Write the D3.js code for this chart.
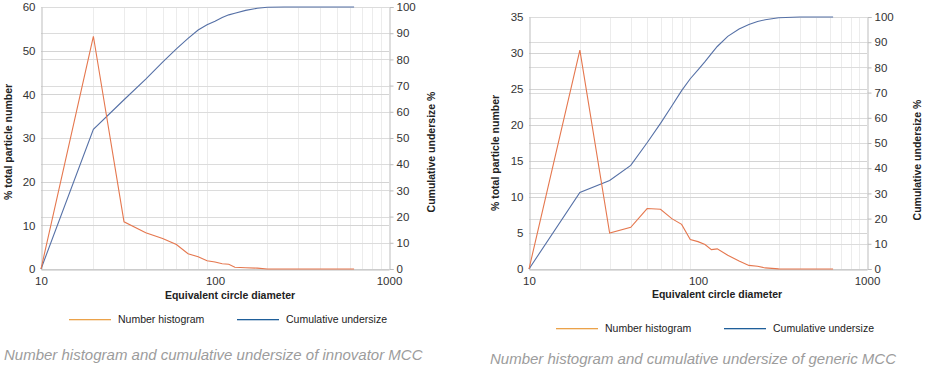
<!DOCTYPE html>
<html>
<head>
<meta charset="utf-8">
<script src="https://cdn.jsdelivr.net/npm/d3@7"></script>
<style>
  body { margin: 0; background: #fff; }
  svg text { font-family: "Liberation Sans", Arial, sans-serif; }
</style>
</head>
<body>
<svg id="chart" width="930" height="373"></svg>
<script>
// diameters (x) and values
const innovatorSizes = [10, 20, 30, 40, 50, 60, 70, 80, 90, 100, 110, 120, 130, 150, 175, 200, 250, 300, 400, 500, 630];
const innovatorHistogram = [0, 53.3, 10.8, 8.3, 7.0, 5.6, 3.5, 2.8, 1.9, 1.6, 1.2, 1.1, 0.4, 0.3, 0.2, 0, 0, 0, 0, 0, 0];
const innovatorCumulative = [0, 53.3, 64.6, 72.5, 79, 84, 88, 91.2, 93.2, 94.6, 96, 97, 97.6, 98.7, 99.5, 99.9, 100, 100, 100, 100, 100];

const genericSizes = [10, 20, 30, 40, 50, 60, 70, 80, 90, 100, 110, 120, 130, 150, 175, 200, 225, 250, 300, 400, 500, 630];
const genericHistogram = [0, 30.4, 5.0, 5.8, 8.4, 8.3, 7.0, 6.2, 4.1, 3.8, 3.4, 2.7, 2.8, 1.9, 1.1, 0.5, 0.38, 0.15, 0.02, 0, 0, 0];
const genericCumulative = [0, 30.4, 35.1, 41.1, 50.1, 57.8, 64.7, 70.8, 75.5, 79, 82.3, 85.5, 88.3, 92.3, 95.2, 97, 98.2, 98.9, 99.7, 100, 100, 100];

const xTicks = [10, 100, 1000];
const rightTicks = [0, 10, 20, 30, 40, 50, 60, 70, 80, 90, 100];
const legendLabels = ["Number histogram", "Cumulative undersize"];
const captions = ["Number histogram and cumulative undersize of innovator MCC",
                  "Number histogram and cumulative undersize of generic MCC"];

const svg = d3.select("#chart");

function drawPanel(p) {
    const g = svg.append("g");

    const x = d3.scaleLog().domain([10, 1000]).range([p.x0, p.x1]);
    const yL = d3.scaleLinear().domain([0, p.leftMax]).range([p.yBottom, p.yTop]);
    const yR = d3.scaleLinear().domain([0, 100]).range([p.yBottom, p.yTop]);

    // vertical minor grid
    const minor = x.ticks().filter(v => xTicks.indexOf(v) < 0);
    g.selectAll(".vgrid").data(minor).enter().append("line")
        .attr("x1", d => Math.round(x(d)) + 0.5).attr("x2", d => Math.round(x(d)) + 0.5)
        .attr("y1", p.yTop).attr("y2", p.yBottom)
        .attr("stroke", "#ececec").attr("stroke-width", 1);

    // horizontal grid for both axes
    g.selectAll(".hgridL").data(p.leftTicks).enter().append("line")
        .attr("x1", p.x0).attr("x2", p.x1)
        .attr("y1", d => Math.round(yL(d)) + 0.5).attr("y2", d => Math.round(yL(d)) + 0.5)
        .attr("stroke", "#d4d4d4");
    g.selectAll(".hgridR").data(rightTicks).enter().append("line")
        .attr("x1", p.x0).attr("x2", p.x1)
        .attr("y1", d => Math.round(yR(d)) + 0.5).attr("y2", d => Math.round(yR(d)) + 0.5)
        .attr("stroke", "#dcdcdc");

    // axes
    const axL = g.append("g").attr("transform", `translate(${p.x0 + 0.5},0)`)
        .call(d3.axisLeft(yL).tickValues(p.leftTicks).tickSize(0).tickPadding(6));
    const axR = g.append("g").attr("transform", `translate(${p.x1 + 0.5},0)`)
        .call(d3.axisRight(yR).tickValues(rightTicks).tickSize(4).tickPadding(3));
    const axB = g.append("g").attr("transform", `translate(0,${p.yBottom + 0.5})`)
        .call(d3.axisBottom(x).tickValues(xTicks).tickFormat(d3.format("d")).tickSize(0).tickPadding(7));

    [axL, axR, axB].forEach(a => {
        a.select(".domain").attr("stroke", "#bdbdbd");
        a.selectAll(".tick line").attr("stroke", "#bdbdbd");
        a.selectAll("text").attr("font-size", 11.5).attr("fill", "#333")
            .attr("font-family", "Liberation Sans, Arial, sans-serif");
    });

    // series
    const histLine = d3.line().x((d, i) => x(p.sizes[i])).y(d => yL(d));
    const cumLine = d3.line().x((d, i) => x(p.sizes[i])).y(d => yR(d));

    g.append("path").datum(p.cumulative).attr("d", cumLine)
        .attr("fill", "none").attr("stroke", "#5570a6").attr("stroke-width", 1.1);
    g.append("path").datum(p.histogram).attr("d", histLine)
        .attr("fill", "none").attr("stroke", "#e5774e").attr("stroke-width", 1.1);

    // titles
    g.append("text")
        .attr("transform", `translate(${p.leftTitleX},${p.leftTitleY}) rotate(-90)`)
        .attr("text-anchor", "middle").attr("font-size", 10.5).attr("font-weight", "bold").attr("fill", "#222")
        .text("% total particle number");
    g.append("text")
        .attr("transform", `translate(${p.rightTitleX},${p.rightTitleY}) rotate(-90)`)
        .attr("text-anchor", "middle").attr("font-size", 10.5).attr("font-weight", "bold").attr("fill", "#222")
        .text("Cumulative undersize %");
    g.append("text")
        .attr("x", p.xTitleX).attr("y", p.xTitleY)
        .attr("text-anchor", "middle").attr("font-size", 10.5).attr("font-weight", "bold").attr("fill", "#222")
        .text("Equivalent circle diameter");

    // legend
    const lg = g.append("g").attr("transform", `translate(${p.legendX},${p.legendY})`);
    const legendColors = ["#eba24a", "#1f5f9a"];
    legendLabels.forEach((label, i) => {
        const ox = i * 168;
        lg.append("rect").attr("x", ox).attr("y", 0).attr("width", 42).attr("height", 1.3)
            .attr("fill", legendColors[i]);
        lg.append("text").attr("x", ox + 49).attr("y", 4).attr("font-size", 10.5).attr("fill", "#222")
            .text(label);
    });

    // caption
    g.append("text")
        .attr("x", p.captionX).attr("y", p.captionY)
        .attr("font-size", 15).attr("font-style", "italic").attr("fill", "#9c9c9c")
        .text(p.caption);
}

drawPanel({
    sizes: innovatorSizes, histogram: innovatorHistogram, cumulative: innovatorCumulative,
    leftMax: 60, leftTicks: [0, 10, 20, 30, 40, 50, 60],
    x0: 41, x1: 389, yTop: 7, yBottom: 269,
    leftTitleX: 12, leftTitleY: 142, rightTitleX: 435, rightTitleY: 152,
    xTitleX: 230, xTitleY: 299,
    legendX: 69, legendY: 319,
    caption: captions[0], captionX: 4, captionY: 360
});

drawPanel({
    sizes: genericSizes, histogram: genericHistogram, cumulative: genericCumulative,
    leftMax: 35, leftTicks: [0, 5, 10, 15, 20, 25, 30, 35],
    x0: 529, x1: 867, yTop: 17, yBottom: 269,
    leftTitleX: 499, leftTitleY: 153, rightTitleX: 921, rightTitleY: 160,
    xTitleX: 717, xTitleY: 298,
    legendX: 556, legendY: 328,
    caption: captions[1], captionX: 490, captionY: 364
});
</script>
</body>
</html>
